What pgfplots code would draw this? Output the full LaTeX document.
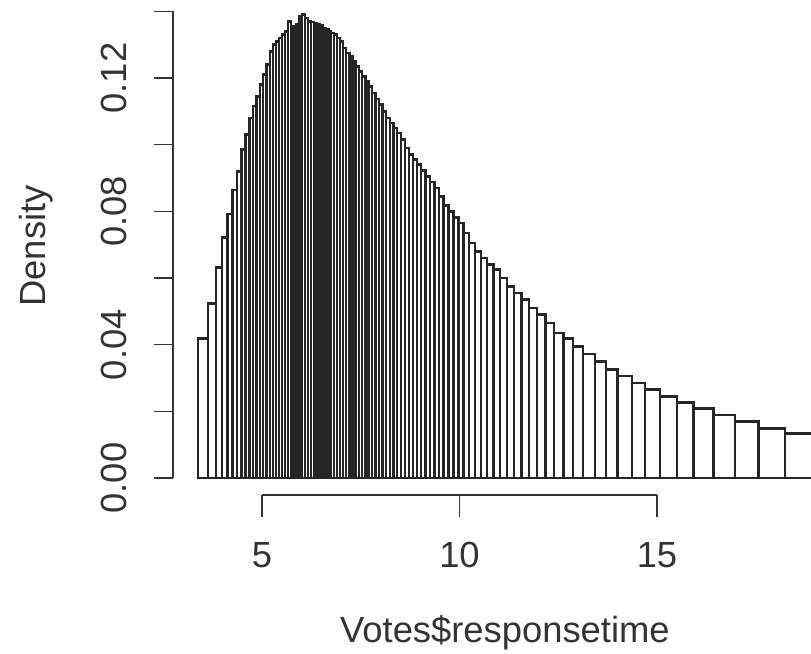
\documentclass[border=0pt]{standalone}
\usepackage{pgfplots}
\pgfplotsset{compat=1.18}
\usepackage{fontspec}
\setmainfont{Liberation Sans}

% histogram with quantile breaks: left edge, density (last row = right end)
\begin{document}
\begin{tikzpicture}[font=\fontsize{36.5}{42}\selectfont]
\begin{axis}[
    at={(173bp,176bp)}, anchor=south west,
    scale only axis, width=638bp, height=468bp,
    xmin=2.747, xmax=18.899, ymin=0, ymax=0.1404,
    hide axis, clip=false,
]
\addplot[ybar interval, fill=white, draw=black!85, line width=2.4bp] coordinates {
(3.38,0.0419) (3.63,0.0524) (3.83,0.0632) (3.99,0.0722) (4.13,0.0792)
(4.256,0.0864) (4.372,0.092) (4.481,0.0985) (4.582,0.103) (4.679,0.108)
(4.772,0.1116) (4.861,0.1144) (4.949,0.118) (5.033,0.121) (5.116,0.124)
(5.197,0.128) (5.275,0.130) (5.352,0.131) (5.428,0.132) (5.504,0.133)
(5.579,0.134) (5.654,0.137) (5.727,0.1355) (5.800,0.1345) (5.874,0.136)
(5.947,0.1385) (6.019,0.139) (6.091,0.138) (6.164,0.137) (6.237,0.1368)
(6.310,0.1365) (6.383,0.136) (6.457,0.1357) (6.531,0.135) (6.605,0.1347)
(6.679,0.134) (6.754,0.1335) (6.829,0.133) (6.904,0.132) (6.980,0.131)
(7.056,0.129) (7.134,0.1275) (7.212,0.1265) (7.291,0.125) (7.371,0.1235)
(7.452,0.122) (7.534,0.1205) (7.617,0.119) (7.701,0.1175) (7.786,0.1155)
(7.873,0.1137) (7.961,0.112) (8.050,0.110) (8.141,0.108) (8.234,0.1065)
(8.328,0.105) (8.423,0.1035) (8.520,0.1015) (8.618,0.099) (8.719,0.097)
(8.822,0.0955) (8.927,0.094) (9.033,0.0922) (9.142,0.0905) (9.252,0.0888)
(9.365,0.087) (9.480,0.0845) (9.598,0.0818) (9.720,0.080) (9.845,0.0782)
(9.973,0.0765) (10.104,0.0735) (10.240,0.0705) (10.390,0.068) (10.543,0.066)
(10.700,0.064) (10.861,0.0625) (11.027,0.060) (11.200,0.0575) (11.380,0.0555)
(11.567,0.0535) (11.762,0.051) (11.964,0.049) (12.173,0.0465) (12.393,0.0435)
(12.628,0.0418) (12.880,0.0394) (13.13,0.0372) (13.43,0.0349) (13.71,0.0326)
(14.00,0.0306) (14.36,0.0285) (14.70,0.0266) (15.08,0.0244) (15.50,0.0226)
(15.92,0.0208) (16.43,0.0189) (16.98,0.0169) (17.57,0.0149) (18.24,0.0134)
(18.99,0.0134)
};

% R-style y axis
\draw[black!80, line width=1.6bp] (axis cs:2.747,0) -- (axis cs:2.747,0.14);
\pgfplotsinvokeforeach{0,0.02,0.04,0.06,0.08,0.1,0.12,0.14}{
  \draw[black!80, line width=1.6bp] (axis cs:2.747,#1) -- ++(-19bp,0bp);
}
\foreach \lab/\v in {0.00/0, 0.04/0.04, 0.08/0.08, 0.12/0.12}{
  \edef\tmp{\noexpand\node[rotate=90, text=black!80, inner sep=0pt]
    at ([xshift=-59bp]axis cs:2.747,\v) {\lab};}
  \tmp
}
\node[rotate=90, text=black!80, inner sep=0pt] at ([xshift=-137bp]axis cs:2.747,0.0696) {Density};

% R-style x axis, detached below the bars
\draw[black!80, line width=1.6bp] ([yshift=-17bp]axis cs:5,0) -- ([yshift=-17bp]axis cs:15,0);
\pgfplotsinvokeforeach{5,10,15}{
  \draw[black!80, line width=1.6bp] ([yshift=-17bp]axis cs:#1,0) -- ++(0bp,-22bp);
  \node[text=black!80, inner sep=0pt] at ([yshift=-77bp]axis cs:#1,0) {#1};
}
\node[text=black!80, inner sep=0pt] at ([yshift=-155bp]axis cs:11.15,0) {Votes\$responsetime};
\end{axis}
\pgfresetboundingbox
\useasboundingbox (0,0) rectangle (811bp,654bp);
\end{tikzpicture}
\end{document}
